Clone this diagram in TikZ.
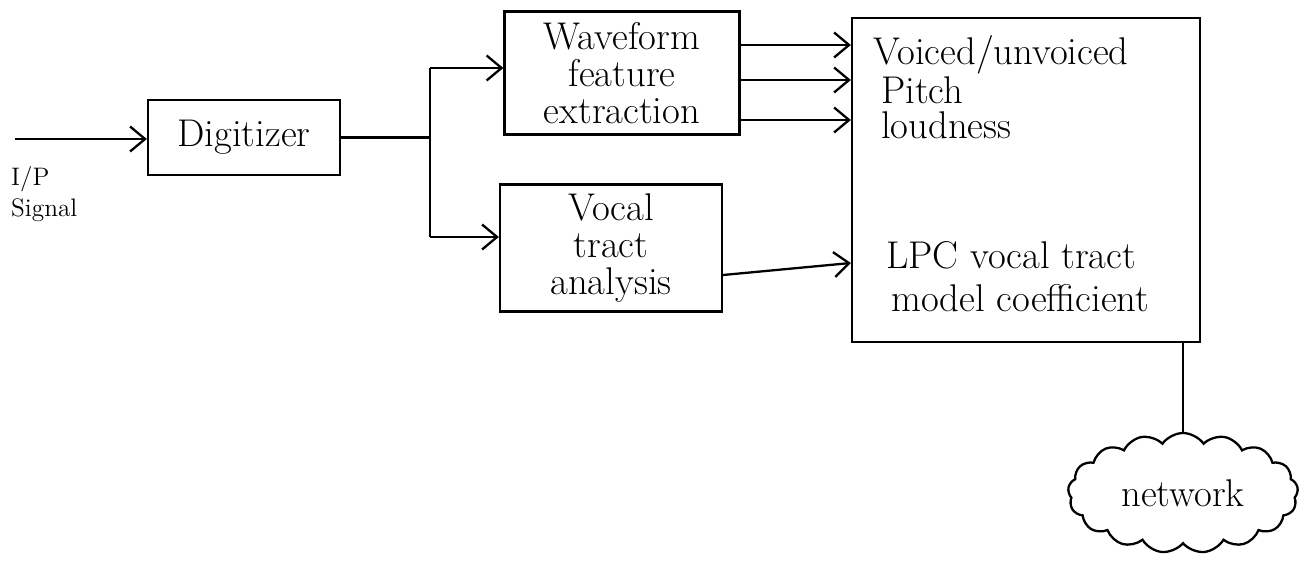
\documentclass[tikz,border=0pt]{standalone}
\usetikzlibrary{arrows.meta,shapes.symbols}
\begin{document}
\begin{tikzpicture}[
  blk/.style={draw, line width=1.3pt, rectangle, align=center,
              font=\fontsize{22}{21}\selectfont},
  big/.style={draw, line width=1.3pt, rectangle, minimum width=69.6mm,
              minimum height=64.8mm},
  feat/.style={anchor=west, font=\fontsize{22}{21}\selectfont},
  conn/.style={line width=1.3pt, -{Straight Barb[length=3mm,width=5mm]}},
  wire/.style={line width=1.3pt},
  net/.style={draw, line width=1.3pt, cloud, cloud puffs=17, cloud puff arc=110,
              cloud ignores aspect, minimum width=46mm, minimum height=24mm,
              font=\fontsize{22}{21}\selectfont},
]
\useasboundingbox (0,0) rectangle (26,-11.24);
\coordinate (in) at (0.3,-2.78);
\node[anchor=north west, align=left, font=\Large] (inlbl) at (0.1,-3.2) {I/P\\Signal};
\node[blk, minimum width=38.4mm, minimum height=15mm] (dig) at (4.88,-2.75) {Digitizer};
\coordinate (split) at (8.6,-2.75);
\node[blk, minimum width=47mm, minimum height=24.6mm] (wave) at (12.44,-1.46) {Waveform\\feature\\extraction};
\node[blk, minimum width=44.4mm, minimum height=25.4mm] (vocal) at (12.22,-4.96) {Vocal\\tract\\analysis};
\node[big] (ctl) at (20.52,-3.6) {};
\node[feat] (vuv) at (17.35,-1.1) {Voiced/unvoiced};
\node[feat] (pitch) at (17.5,-1.8) {Pitch};
\node[feat] (loud) at (17.5,-2.5) {loudness};
\node[feat] (lpc) at (17.6,-5.1) {LPC vocal tract};
\node[feat] (coef) at (17.7,-5.96) {model coefficient};
\node[net] (nw) at (23.66,-9.86) {network};
\draw[conn] (in) -- (dig.west |- in);
\draw[wire] (dig.east) -- (split);
\draw[wire] (split |- 0,-1.36) -- (split |- 0,-4.74);
\draw[conn] (split |- 0,-1.36) -- (wave.west |- 0,-1.36);
\draw[conn] (split |- 0,-4.74) -- (vocal.west |- 0,-4.74);
\draw[conn] (wave.east |- 0,-0.9) -- (ctl.west |- 0,-0.9);
\draw[conn] (wave.east |- 0,-1.6) -- (ctl.west |- 0,-1.6);
\draw[conn] (wave.east |- 0,-2.4) -- (ctl.west |- 0,-2.4);
\draw[conn] ([yshift=-5.4mm]vocal.east) -- ([yshift=-16.6mm]ctl.west);
\draw[wire] (nw.north |- ctl.south) -- (nw.north);
\end{tikzpicture}
\end{document}
